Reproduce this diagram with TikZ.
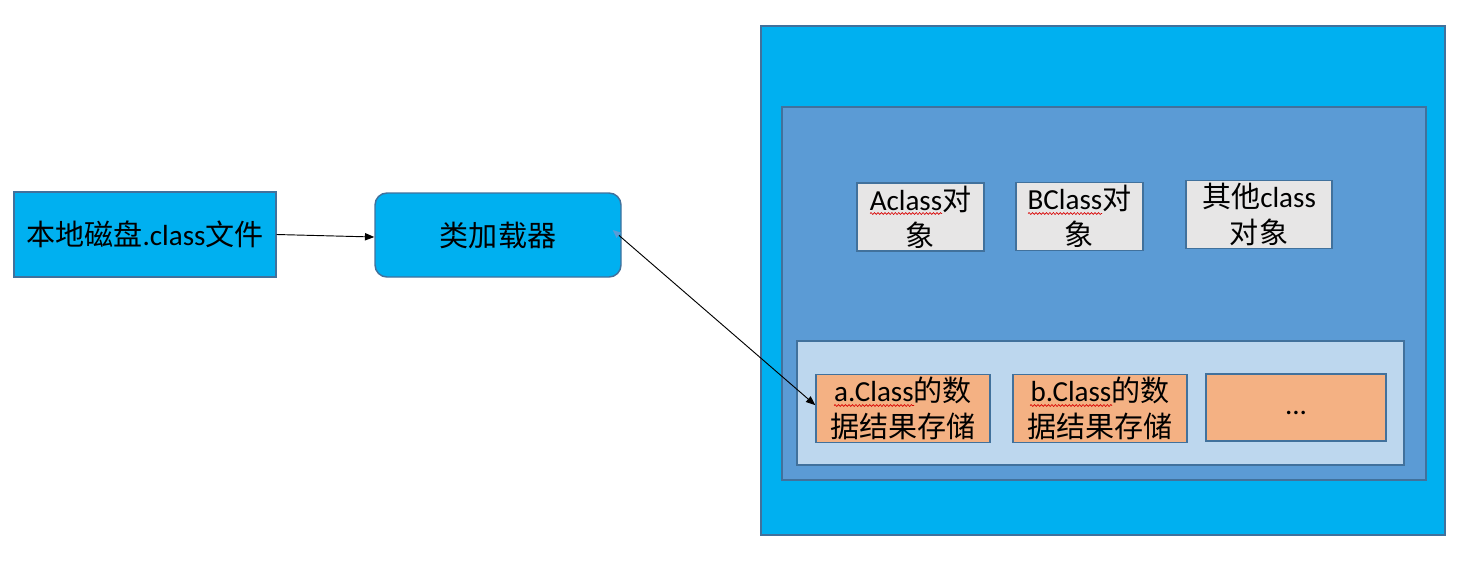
\documentclass[tikz,border=0pt]{standalone}
\usepackage{fontspec}
\setmainfont{Carlito}
\newfontfamily\cjkfont{Noto Sans CJK SC}
\newcommand{\zh}[1]{{\cjkfont #1}}
\usetikzlibrary{arrows.meta,decorations.pathmorphing}
\definecolor{cyanfill}{HTML}{00B0F0}
\definecolor{midblue}{HTML}{5B9BD5}
\definecolor{lightblue}{HTML}{BDD7EE}
\definecolor{grayfill}{HTML}{E7E6E6}
\definecolor{orangefill}{HTML}{F4B183}
\definecolor{edge}{HTML}{41719C}
\tikzset{
  box/.style={draw=edge, line width=1.1pt, inner sep=2pt, align=center,
    font=\fontsize{21.8}{25.5}\selectfont, text=black},
  arr/.style={draw=black, line width=0.7pt, -{Triangle[length=7pt,width=5.5pt]}},
  wavy/.style={draw=red!85!black, line width=0.5pt,
    decorate, decoration={snake, segment length=2.6pt, amplitude=0.7pt}}
}
\begin{document}
\begin{tikzpicture}[x=0.75pt,y=-0.75pt]
\useasboundingbox (0,0) rectangle (1476,562);
% left side
\node[box, fill=cyanfill, minimum width=196.5pt, minimum height=63.75pt] (disk) at (145,234.5)
  {\zh{本地磁盘}.class\zh{文件}};
\node[box, fill=cyanfill, rounded corners=9pt, minimum width=184.5pt, minimum height=63pt] (loader) at (498,235)
  {\zh{类加载器}};
% containers
\node[box, fill=cyanfill, minimum width=513pt, minimum height=381.75pt] (outer) at (1103,280.5) {};
\node[box, fill=midblue, minimum width=483pt, minimum height=279.75pt] (inner) at (1104,293.5) {};
% objects
\node[box, fill=grayfill, minimum width=95.25pt, minimum height=49.5pt] (objA) at (920.5,217)
  {Aclass\zh{对}\\[1.5pt]\zh{象}};
\node[box, fill=grayfill, minimum width=95.25pt, minimum height=48.75pt] (objB) at (1079.5,216.5)
  {BClass\zh{对}\\[1.5pt]\zh{象}};
\node[box, fill=grayfill, minimum width=109.5pt, minimum height=50.25pt] (objC) at (1259,214.5)
  {\zh{其他}class\\[1.5pt]\zh{对象}};
% method area
\node[box, fill=lightblue, minimum width=455.25pt, minimum height=93pt] (area) at (1100.5,403) {};
\node[box, fill=orangefill, minimum width=130.5pt, minimum height=48.75pt] (orA) at (903,408.5)
  {a.Class\zh{的数}\\[1.5pt]\zh{据结果存储}};
\node[box, fill=orangefill, minimum width=130.5pt, minimum height=48.75pt] (orB) at (1100,408.5)
  {b.Class\zh{的数}\\[1.5pt]\zh{据结果存储}};
\node[box, fill=orangefill, minimum width=135pt, minimum height=50.25pt] (orC) at (1296,407.5)
  {\smash{\raisebox{-5pt}{...}}};
% spell-check underlines
\draw[wavy] (870,213.5) -- (942,213.5);
\draw[wavy] (1028,213.5) -- (1102,213.5);
\draw[wavy] (834,405.5) -- (914,405.5);
\draw[wavy] (1030,405.5) -- (1112,405.5);
% connectors
\draw[arr] (disk.east) -- ([yshift=-1.5pt]loader.west);
\draw[line width=0.7pt, {Triangle[color=midblue,length=6pt,width=5pt]}-{Triangle[length=7pt,width=5.5pt]}]
  ([xshift=-6.75pt,yshift=3.75pt]loader.east) -- ([yshift=2.5pt]orA.west);
\end{tikzpicture}
\end{document}
